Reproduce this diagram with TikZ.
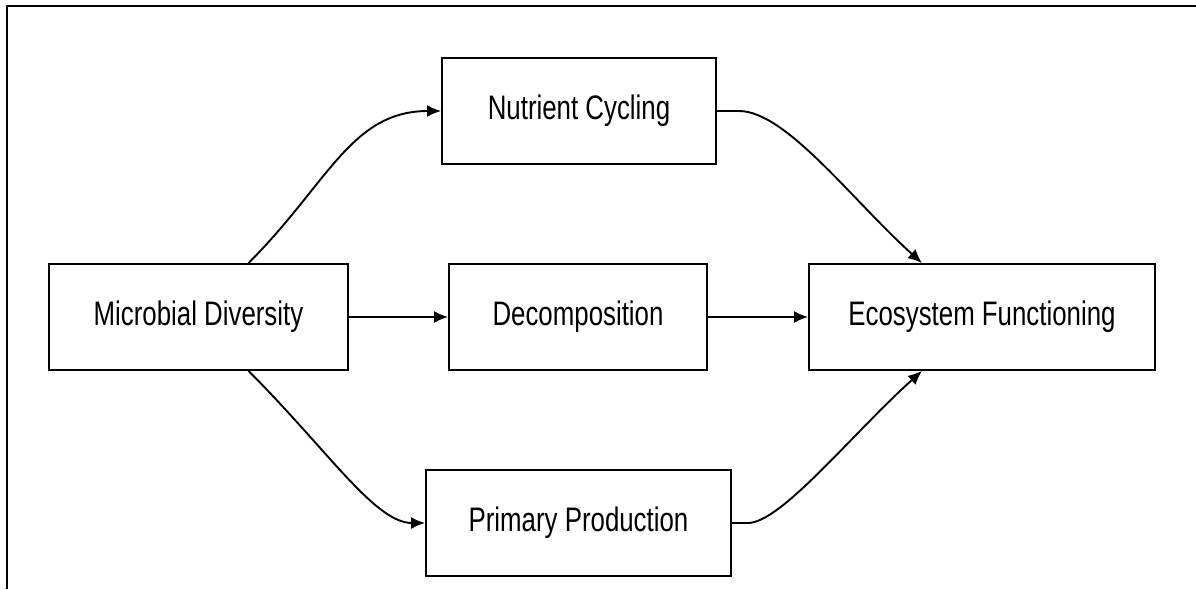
\documentclass[tikz,border=0pt]{standalone}
\usepackage{fontspec}
\setmainfont{Liberation Sans}[FakeStretch=0.76]
\usetikzlibrary{arrows.meta}
\begin{document}
\begin{tikzpicture}[x=1pt,y=-1pt,
  box/.style={draw, line width=1.8pt, minimum height=106pt, inner sep=0pt,
              font=\fontsize{34}{40}\selectfont},
  conn/.style={line width=1.9pt, -{Latex[length=14pt,width=12pt]}},
  frame/.style={line width=2.4pt}]
\useasboundingbox (0,0) rectangle (1196,589);
\draw[frame] (7,589) -- (7,6) -- (1196,6);

\node[box, minimum width=299pt] (md) at (198.5,317) {Microbial Diversity};
\node[box, minimum width=274pt] (nc) at (579,111) {Nutrient Cycling};
\node[box, minimum width=258pt] (dc) at (578,317) {Decomposition};
\node[box, minimum width=305pt] (pp) at (578.5,523) {Primary Production};
\node[box, minimum width=346pt] (ef) at (982,317) {Ecosystem Functioning};

\draw[conn] ([xshift=50pt]md.north) .. controls +(80,-80) and +(-90,0) .. (nc.west);
\draw[conn] (md.east) -- (dc.west);
\draw[conn] ([xshift=50pt]md.south) .. controls +(80,80) and +(-50,0) .. (pp.west);
\draw[conn] (nc.east) -- +(22,0) .. controls +(47,0) and +(-70,-63) .. ([xshift=-60pt]ef.north);
\draw[conn] (dc.east) -- (ef.west);
\draw[conn] (pp.east) -- +(16,0) .. controls +(33,0) and +(-70,63) .. ([xshift=-60pt]ef.south);
\end{tikzpicture}
\end{document}
